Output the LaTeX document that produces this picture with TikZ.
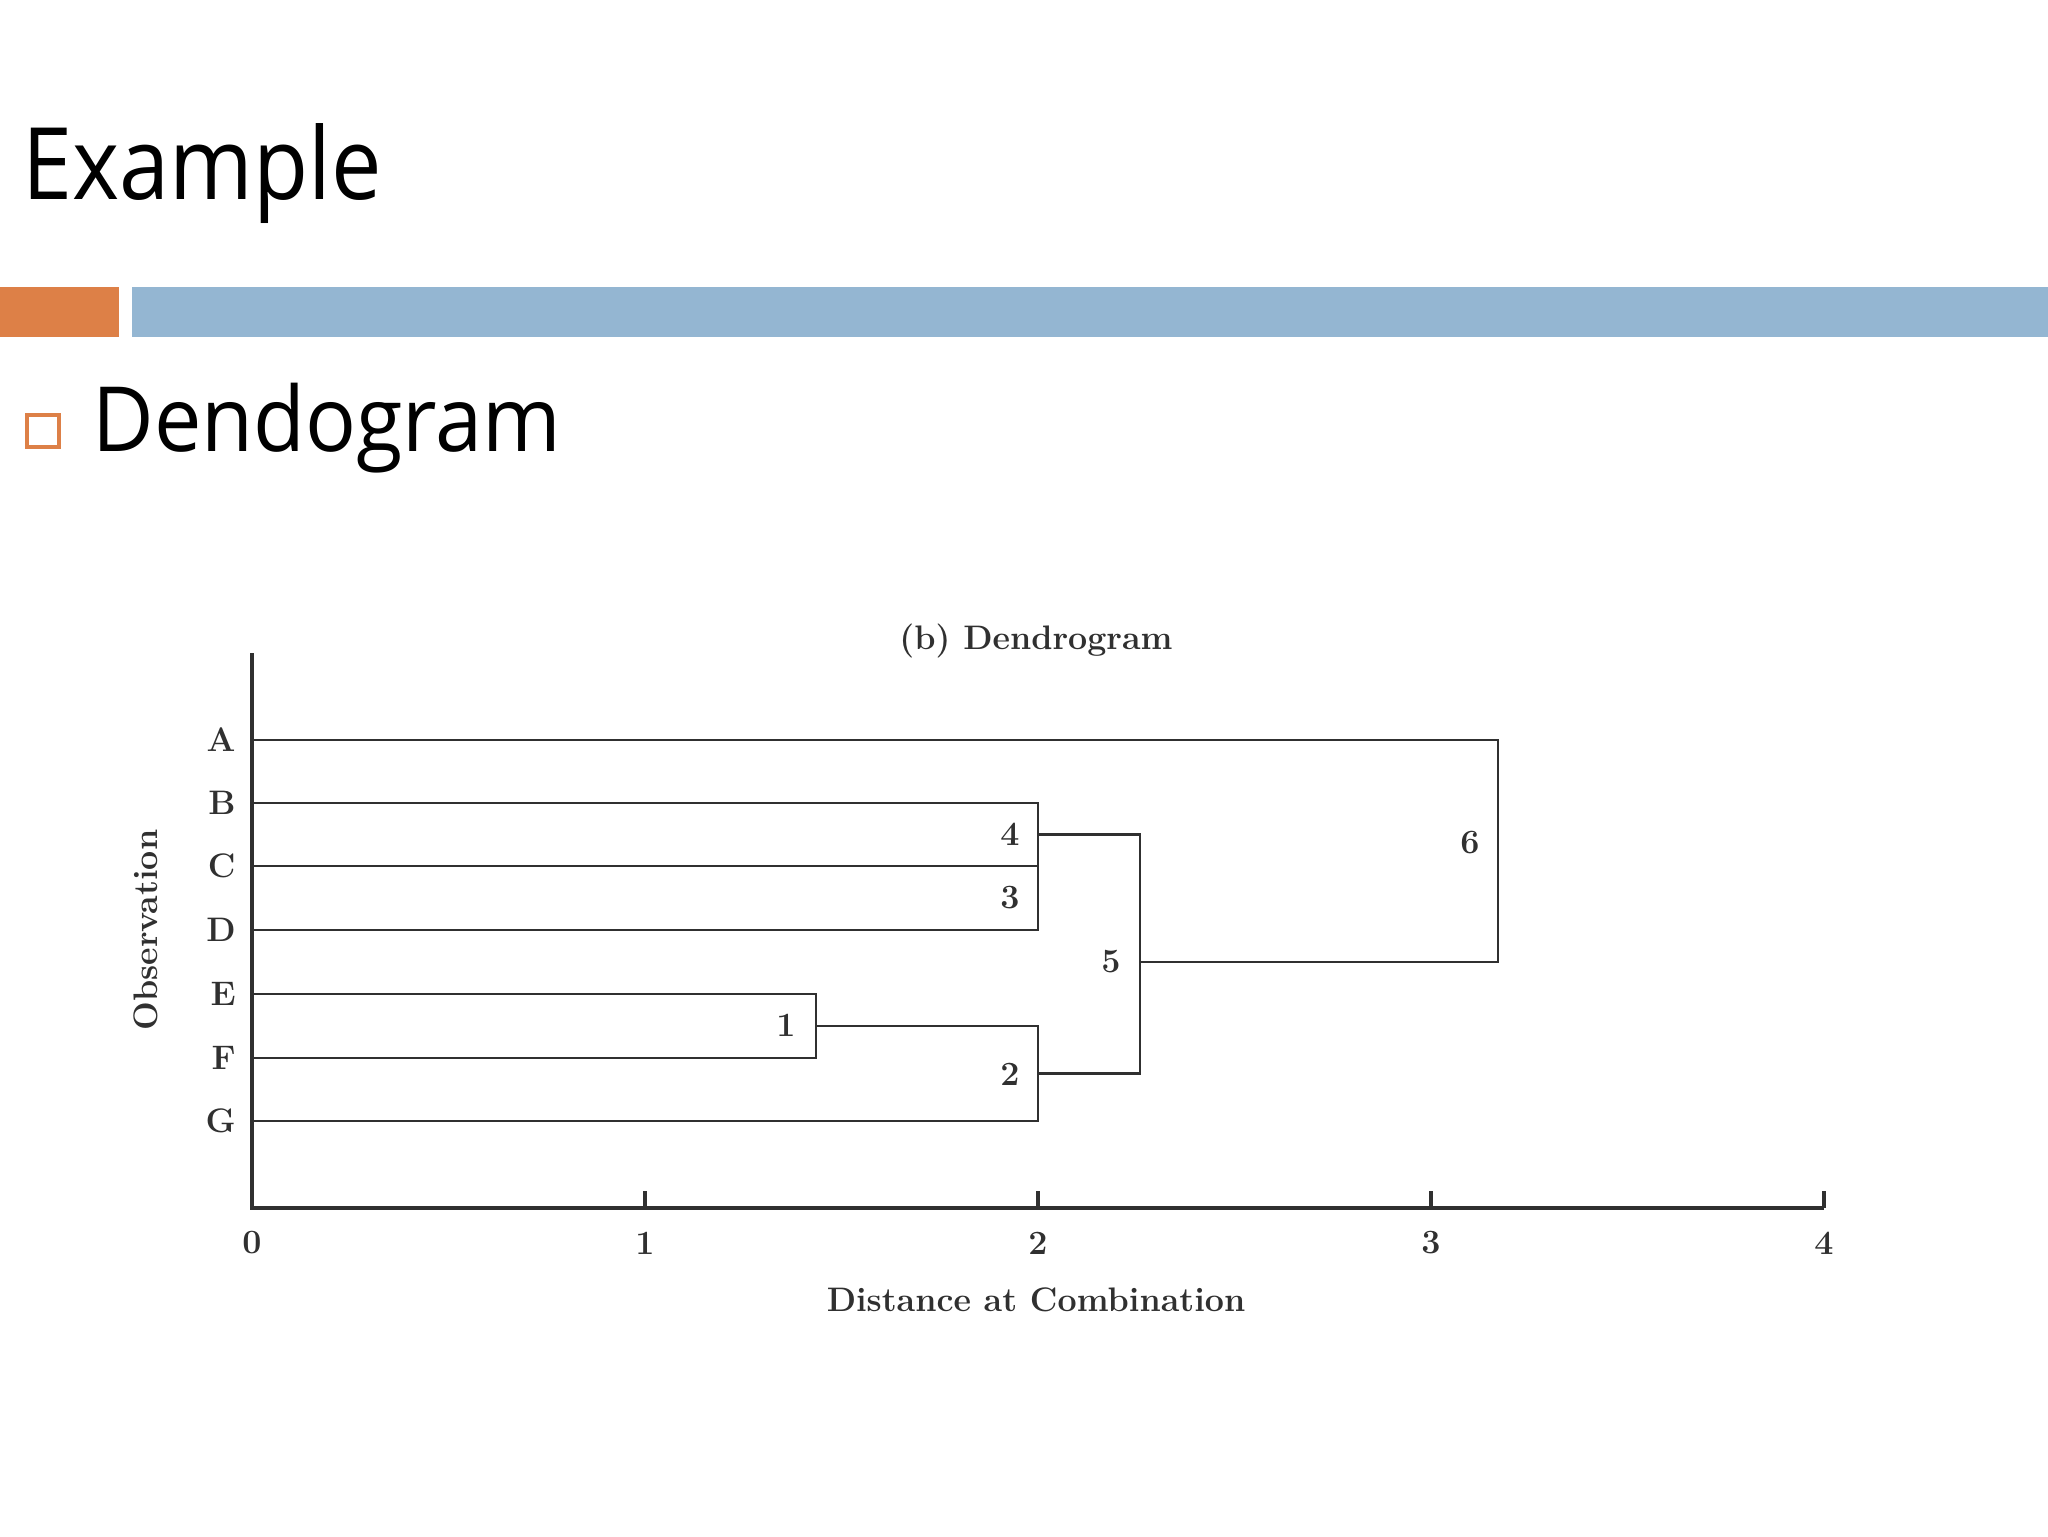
\documentclass[tikz,border=0pt]{standalone}
\usepackage{fontspec}
\newfontfamily\titlefont[FakeStretch=0.9]{Open Sans}
\newfontfamily\slidefont[FakeStretch=0.94]{Open Sans}
\definecolor{barorange}{HTML}{DD8047}
\definecolor{barblue}{HTML}{94B6D2}
\definecolor{inkgray}{HTML}{303030}

\begin{document}
\begin{tikzpicture}[x=0.5pt, y=-0.5pt,
  heading/.style={anchor=base west, inner sep=0pt, text=black,
                  font=\titlefont\fontsize{50}{60}\selectfont},
  subhead/.style={anchor=base west, inner sep=0pt, text=black,
                  font=\slidefont\fontsize{45}{54}\selectfont},
  leaf/.style={anchor=east, inner sep=0pt, text=inkgray,
               font=\bfseries\fontsize{17}{20}\selectfont},
  hgt/.style={anchor=east, inner sep=0pt, text=inkgray,
              font=\bfseries\fontsize{17}{20}\selectfont},
  axlabel/.style={inner sep=0pt, text=inkgray,
                  font=\bfseries\fontsize{17}{20}\selectfont},
  link/.style={draw=inkgray, line width=1.4pt},
  axis/.style={draw=inkgray, line width=1.6pt}
]
  \useasboundingbox[fill=white] (0,0) rectangle (2048,1536);

  % Slide title and bars
  \node[heading] (title) at (22,199) {Example};
  \fill[barorange] (0,287) rectangle (119,337);
  \fill[barblue] (132,287) rectangle (2048,337);
  \node[draw=barorange, line width=2pt, minimum size=16pt, inner sep=0pt]
    (bullet) at (42.5,430.5) {};
  \node[subhead] (topic) at (92,451) {Dendogram};

  % Chart caption
  \node[axlabel] (caption) at (1036,641) {(b) Dendrogram};

  % Axes
  \coordinate (o) at (252,1208);
  \coordinate (ytop) at (252,653);
  \coordinate (xend) at (1824,1208);
  \draw[axis] (ytop) -- (o) -- (xend);
  \foreach \t in {0,...,4} {
    \pgfmathsetmacro{\x}{252 + 393*\t}
    \coordinate (t\t) at (\x,1208);
    \draw[axis] (t\t) -- ++(0,-17);
    \node[axlabel] (n\t) at (\x,1243) {\t};
  }
  \node[axlabel] (xtitle) at (1036,1300) {Distance at Combination};
  \node[axlabel, rotate=90] (ytitle) at (146,930) {Observation};

  % Observations
  \foreach \name/\y in {A/740,B/803,C/866,D/930,E/994,F/1058,G/1121} {
    \node[leaf] (l\name) at (236,\y) {\name};
    \coordinate (s\name) at (252,\y);
  }

  % Joins
  \coordinate (k1) at (816,1026);
  \coordinate (k4) at (1038,834.5);
  \coordinate (k2) at (1038,1073.5);
  \coordinate (k5) at (1140,962);
  \coordinate (k6) at (1498,850);
  \draw[link] (sE) -| (k1);
  \draw[link] (sF) -| (k1);
  \draw[link] (sB) -| (k4);
  \draw[link] (sC) -| (k4);
  \draw[link] (sD) -| (k4);
  \draw[link] (k1) -| (k2);
  \draw[link] (sG) -| (k2);
  \draw[link] (k4) -| (k5);
  \draw[link] (k2) -| (k5);
  \draw[link] (k5) -| (k6);
  \draw[link] (sA) -| (k6);

  % Join order
  \node[hgt] (h1) at (796,1025) {1};
  \node[hgt] (h2) at (1020,1074) {2};
  \node[hgt] (h3) at (1020,898) {3};
  \node[hgt] (h4) at (1020,834) {4};
  \node[hgt] (h5) at (1121,962) {5};
  \node[hgt] (h6) at (1480,843) {6};
\end{tikzpicture}
\end{document}
